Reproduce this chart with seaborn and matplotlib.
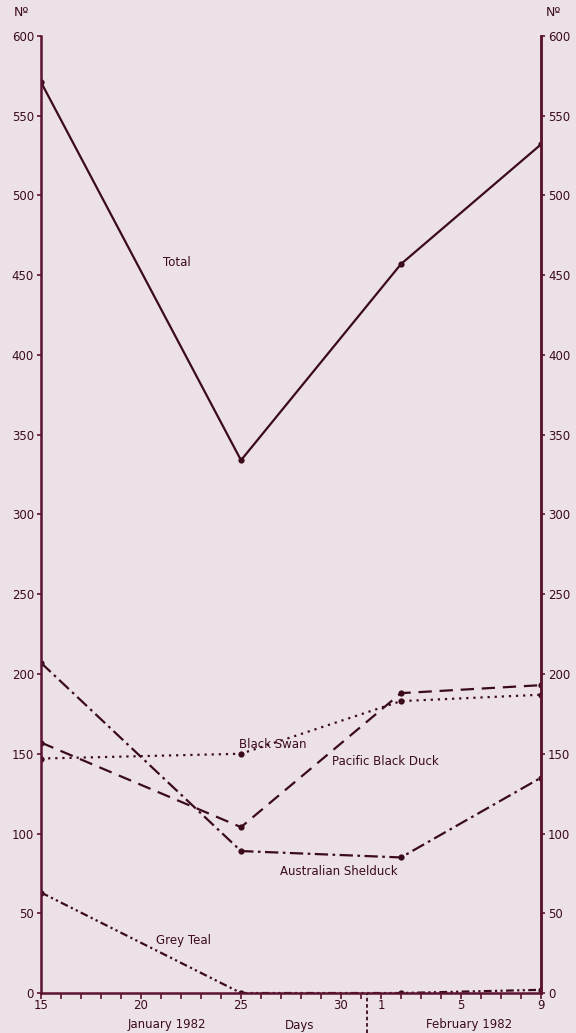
import matplotlib
matplotlib.use("Agg")
import matplotlib.pyplot as plt
import pandas as pd
import numpy as np
import seaborn as sns

sns.set_style("ticks")
plt.rcParams["font.family"] = ["DejaVu Sans"]

# days counted from 1 January 1982 (1 Feb = 32)
days = [15, 25, 33, 40]
total = [571, 334, 457, 532]
black_swan = [147, 150, 183, 187]
pacific_black_duck = [157, 104, 188, 193]
australian_shelduck = [207, 89, 85, 135]
grey_teal = [63, 0, 0, 2]

tick_days = [15, 20, 25, 30, 32, 36, 40]
tick_labels = ["15", "20", "25", "30", "1", "5", "9"]

bg = "#ece1e7"
ink = "#3b0b1c"
axc = "#5c1231"

series = [
    ("Total", total, "-"),
    ("Black Swan", black_swan, (0, (1, 2.2))),
    ("Pacific Black Duck", pacific_black_duck, (0, (6, 3.5))),
    ("Australian Shelduck", australian_shelduck, (0, (6, 2, 1.2, 2))),
    ("Grey Teal", grey_teal, (0, (3.5, 1.5, 1, 1.5, 1, 1.5))),
]

fig = plt.figure(figsize=(5.76, 10.33), dpi=100, facecolor=bg)
ax = fig.add_axes([0.0712, 0.0387, 0.868, 0.9265])
ax.set_facecolor(bg)

for name, vals, ls in series:
    df = pd.DataFrame({"day": days, "count": vals})
    sns.lineplot(data=df, x="day", y="count", ax=ax, color=ink, linewidth=1.6,
                 linestyle=ls, marker="o", markersize=4.5, markeredgewidth=0)

ax.set_xlim(15, 40)
ax.set_ylim(0, 600)
ax.set_xlabel("")
ax.set_ylabel("")
ax.set_yticks(np.arange(0, 601, 50))
ax.set_yticklabels([str(v) for v in range(0, 601, 50)], fontsize=8.5, color=ink)
ax.set_xticks(tick_days)
ax.set_xticklabels(tick_labels, fontsize=8.5, color=ink)
ax.set_xticks(np.arange(15, 41, 1), minor=True)
ax.tick_params(axis="x", which="both", length=4, width=1.2, color=axc, pad=0.5)
ax.tick_params(axis="y", length=3, width=1.2, color=axc, pad=2)

ax.spines["top"].set_visible(False)
for s in ["left", "right", "bottom"]:
    ax.spines[s].set_color(axc)
    ax.spines[s].set_linewidth(1.8)

ax2 = ax.twinx()
ax2.set_ylim(0, 600)
ax2.set_yticks(np.arange(0, 601, 50))
ax2.set_yticklabels([str(v) for v in range(0, 601, 50)], fontsize=8.5, color=ink)
ax2.tick_params(axis="y", length=3, width=1.2, color=axc, pad=2)
for s in ["top", "left", "bottom"]:
    ax2.spines[s].set_visible(False)
ax2.spines["right"].set_color(axc)
ax2.spines["right"].set_linewidth(1.8)

# series labels
labels = [
    ("Total", 21.8, 458),
    ("Black Swan", 26.6, 156),
    ("Pacific Black Duck", 32.2, 145),
    ("Australian Shelduck", 29.9, 76),
    ("Grey Teal", 22.1, 33),
]
for text, x, y in labels:
    ax.text(x, y, text, fontsize=8.5, color=ink, ha="center", va="center")

fig.text(0.037, 0.988, "Nº", fontsize=9, color=ink, ha="center", va="center")
fig.text(0.96, 0.988, "Nº", fontsize=9, color=ink, ha="center", va="center")
fig.text(0.29, 0.0015, "January 1982", fontsize=8.5, color=ink, ha="center", va="bottom")
fig.text(0.52, 0.0008, "Days", fontsize=8.5, color=ink, ha="center", va="bottom")
fig.text(0.815, 0.0015, "February 1982", fontsize=8.5, color=ink, ha="center", va="bottom")
fig.add_artist(plt.Line2D([0.637, 0.637], [0.0, 0.038], color=ink, linewidth=1.3,
                          linestyle=(0, (2, 1.5))))

fig.savefig("out.png", dpi=100, facecolor=bg)
